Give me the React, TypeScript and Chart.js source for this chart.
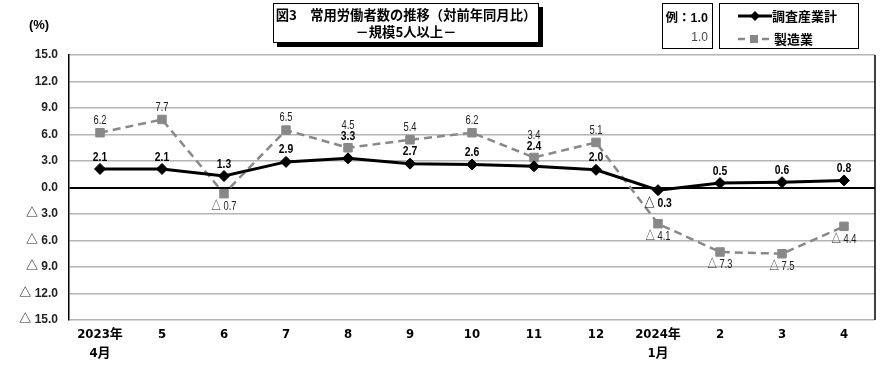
import React, { useEffect, useRef } from "react";
import { Chart, registerables } from "chart.js";

Chart.register(...registerables);

// ---- data ----
const categories: (string | string[])[] = [
  ["2023年", "4月"], "5", "6", "7", "8", "9", "10", "11", "12", ["2024年", "1月"], "2", "3", "4",
];
const seriesNames = ["調査産業計", "製造業"];
const totalValues = [2.1, 2.1, 1.3, 2.9, 3.3, 2.7, 2.6, 2.4, 2.0, -0.3, 0.5, 0.6, 0.8];
const manufacturingValues = [6.2, 7.7, -0.7, 6.5, 4.5, 5.4, 6.2, 3.4, 5.1, -4.1, -7.3, -7.5, -4.4];
const yMin = -15;
const yMax = 15;
const yStep = 3;

const NARROW = '"Liberation Sans Narrow", "DejaVu Sans Condensed", "Noto Sans CJK JP", sans-serif';
const SANS = '"Liberation Sans", Arial, "Noto Sans CJK JP", sans-serif';
const CJK = '"Noto Sans CJK JP", "Liberation Sans", sans-serif';

const fmt = (v: number) => (v < 0 ? "△ " + Math.abs(v).toFixed(1) : v.toFixed(1));

function drawNarrow(ctx: any, text: string, x: number, y: number, sx: number) {
  ctx.save();
  ctx.translate(x, y);
  ctx.scale(sx, 1);
  ctx.fillText(text, 0, 0);
  ctx.restore();
}

const labelPlugin = {
  id: "valueLabels",
  afterDatasetsDraw(chart: any) {
    const ctx = chart.ctx;
    const m0 = chart.getDatasetMeta(0).data;
    const m1 = chart.getDatasetMeta(1).data;
    ctx.save();
    ctx.textAlign = "center";
    ctx.textBaseline = "middle";
    for (let i = 0; i < categories.length; i++) {
      const v0 = totalValues[i];
      const v1 = manufacturingValues[i];
      const p0 = m0[i];
      const p1 = m1[i];
      let y0 = v0 >= 0 ? p0.y - 12 : p0.y + 13;
      let y1 = v1 >= 0 ? p1.y - 12 : p1.y + 13;
      if (v0 >= 0 && Math.abs(y0 - p1.y) < 8) y0 = p1.y - 11;
      if (v1 >= 0 && Math.abs(y1 - y0) < 10) y1 = y0 - 11;
      ctx.font = "bold 13px " + SANS;
      ctx.fillStyle = "#000";
      drawNarrow(ctx, fmt(v0), p0.x, y0, 0.8);
      ctx.font = "12px " + SANS;
      ctx.fillStyle = "#222";
      drawNarrow(ctx, fmt(v1), p1.x, y1, 0.78);
    }
    ctx.restore();
  },
  afterDraw(chart: any) {
    const { ctx, chartArea } = chart;
    ctx.save();
    ctx.strokeStyle = "#000";
    ctx.lineWidth = 1.5;
    ctx.beginPath();
    ctx.moveTo(chartArea.right, chartArea.top);
    ctx.lineTo(chartArea.right, chartArea.bottom);
    ctx.stroke();
    ctx.font = "bold 13px " + SANS;
    ctx.fillStyle = "#000";
    ctx.textAlign = "center";
    ctx.textBaseline = "middle";
    ctx.fillText("(%)", 39, 25);
    ctx.restore();
  },
};

function ChartCanvas() {
  const ref = useRef<HTMLCanvasElement | null>(null);
  useEffect(() => {
    if (!ref.current) return;
    const chart = new Chart(ref.current, {
      type: "line",
      data: {
        labels: categories as any,
        datasets: [
          {
            label: seriesNames[0],
            data: totalValues,
            borderColor: "#000",
            backgroundColor: "#000",
            borderWidth: 3,
            pointStyle: "rectRot",
            pointRadius: 5.5,
            pointBorderWidth: 1,
            pointBackgroundColor: "#000",
            pointBorderColor: "#000",
            tension: 0,
          },
          {
            label: seriesNames[1],
            data: manufacturingValues,
            borderColor: "#888888",
            backgroundColor: "#888888",
            borderWidth: 2.5,
            borderDash: [8, 5],
            pointStyle: "rect",
            pointRadius: 6,
            pointBorderWidth: 1,
            pointBackgroundColor: "#888888",
            pointBorderColor: "#888888",
            tension: 0,
          },
        ],
      },
      options: {
        responsive: false,
        maintainAspectRatio: false,
        animation: false,
        devicePixelRatio: 1,
        layout: { padding: { top: 55, right: 15, left: 0, bottom: 0 } },
        plugins: { legend: { display: false }, tooltip: { enabled: false }, title: { display: false } },
        scales: {
          x: {
            offset: true,
            grid: { display: false, drawTicks: false },
            border: { display: false },
            ticks: {
              autoSkip: false,
              maxRotation: 0,
              padding: 6,
              color: "#000",
              font: { family: NARROW, size: 13, weight: "bold", lineHeight: 1.4 },
            },
            afterFit: (s: any) => {
              s.height = 52;
            },
          },
          y: {
            min: yMin,
            max: yMax,
            ticks: {
              stepSize: yStep,
              padding: 11,
              color: "#222",
              font: { family: SANS, size: 12, weight: "bold" },
              callback: (v: any) => fmt(Number(v)),
            },
            grid: {
              drawTicks: false,
              color: (c: any) => (c.tick && c.tick.value === 0 ? "#000" : "#b4b4b4"),
              lineWidth: (c: any) => (c.tick && c.tick.value === 0 ? 2 : 1.5),
            },
            border: { color: "#000", width: 1.5 },
            afterFit: (s: any) => {
              s.width = 69;
            },
          },
        },
      },
      plugins: [labelPlugin],
    });
    return () => chart.destroy();
  }, []);
  return <canvas ref={ref} width={890} height={372} style={{ display: "block" }} />;
}

export default function App() {
  const box: React.CSSProperties = {
    position: "absolute",
    border: "1px solid #000",
    background: "#fff",
    boxSizing: "border-box",
  };
  return (
    <div style={{ position: "absolute", left: 0, top: 0, width: 890, height: 372, background: "#fff", overflow: "hidden" }}>
      <ChartCanvas />
      <div
        style={{
          ...box,
          left: 273,
          top: 3,
          width: 266,
          height: 40,
          boxShadow: "4px 4px 0 #000",
          fontFamily: CJK,
          fontWeight: "bold",
          fontSize: 13.3,
          lineHeight: "17px",
          textAlign: "center",
          paddingTop: 2,
          whiteSpace: "nowrap",
          color: "#000",
        }}
      >
        <div>図3　常用労働者数の推移（対前年同月比）</div>
        <div>－規模5人以上－</div>
      </div>
      <div style={{ ...box, left: 662, top: 3, width: 51, height: 46, fontFamily: CJK, fontSize: 12.5 }}>
        <div style={{ position: "absolute", right: 4, top: 3, fontWeight: "bold", whiteSpace: "nowrap" }}>
          例：<span style={{ fontFamily: SANS }}>1.0</span>
        </div>
        <div style={{ position: "absolute", right: 4, top: 26, color: "#444", fontFamily: SANS, fontSize: 12 }}>1.0</div>
      </div>
      <div style={{ ...box, left: 719, top: 3, width: 140, height: 46, fontFamily: CJK, fontWeight: "bold", fontSize: 13 }}>
        <svg style={{ position: "absolute", left: 18, top: 6 }} width={36} height={34}>
          <line x1={0} y1={6} x2={34} y2={6} stroke="#000" strokeWidth={3} />
          <polygon points="17,1 22,6 17,11 12,6" fill="#000" />
          <line x1={0} y1={29} x2={32} y2={29} stroke="#888888" strokeWidth={2.5} strokeDasharray="7,5" />
          <rect x={12} y={25} width={8} height={8} fill="#888888" />
        </svg>
        <div style={{ position: "absolute", left: 52, top: 2, whiteSpace: "nowrap" }}>{seriesNames[0]}</div>
        <div style={{ position: "absolute", left: 54, top: 25, whiteSpace: "nowrap" }}>{seriesNames[1]}</div>
      </div>
    </div>
  );
}
